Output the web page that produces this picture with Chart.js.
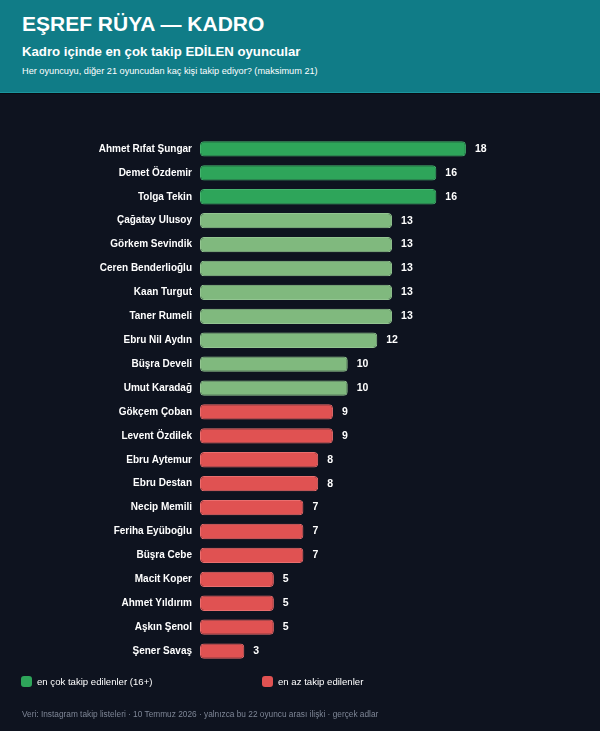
<!DOCTYPE html>
<html>
<head>
<meta charset="utf-8">
<script src="https://cdn.jsdelivr.net/npm/chart.js@4"></script>
<style>
  html, body { margin: 0; padding: 0; overflow: hidden; }
  body { width: 600px; height: 731px; background: #0e131f; font-family: "Liberation Sans", Arial, sans-serif; position: relative; }
  .head { position: absolute; left: 0; top: 0; width: 600px; height: 92px; background: #107c87; border-bottom: 1px solid #1b959e; box-shadow: 0 1px 0 #070b12; }
  .head h1 { position: absolute; left: 22px; top: 12px; margin: 0; font-size: 21px; font-weight: bold; color: #fff; }
  .head h2 { position: absolute; left: 22px; top: 44px; margin: 0; font-size: 13.2px; font-weight: bold; color: #fff; }
  .head p { position: absolute; left: 22px; top: 66px; margin: 0; font-size: 9.2px; color: #fff; }
  #wrap { position: absolute; left: 0; top: 123px; width: 600px; height: 554px; }
  .leg { position: absolute; top: 676px; font-size: 9.6px; color: #fff; }
  .leg span { display: inline-block; width: 11px; height: 11px; border-radius: 3px; vertical-align: -2px; margin-right: 5px; }
  .foot { position: absolute; left: 22px; top: 709px; font-size: 8.3px; color: #7e8696; }
</style>
</head>
<body>
<div class="head">
  <h1>EŞREF RÜYA — KADRO</h1>
  <h2>Kadro içinde en çok takip EDİLEN oyuncular</h2>
  <p>Her oyuncuyu, diğer 21 oyuncudan kaç kişi takip ediyor? (maksimum 21)</p>
</div>
<div id="wrap"><canvas id="myChart"></canvas></div>
<div class="leg" style="left:21px"><span style="background:#2ea55a"></span>en çok takip edilenler (16+)</div>
<div class="leg" style="left:262px"><span style="background:#e05252"></span>en az takip edilenler</div>
<div class="foot">Veri: Instagram takip listeleri · 10 Temmuz 2026 · yalnızca bu 22 oyuncu arası ilişki · gerçek adlar</div>
<script>
// oyuncular ve takip sayıları
var players = [
    'Ahmet Rıfat Şungar', 'Demet Özdemir', 'Tolga Tekin', 'Çağatay Ulusoy',
    'Görkem Sevindik', 'Ceren Benderlioğlu', 'Kaan Turgut', 'Taner Rumeli',
    'Ebru Nil Aydın', 'Büşra Develi', 'Umut Karadağ', 'Gökçem Çoban',
    'Levent Özdilek', 'Ebru Aytemur', 'Ebru Destan', 'Necip Memili',
    'Feriha Eyüboğlu', 'Büşra Cebe', 'Macit Koper', 'Ahmet Yıldırım',
    'Aşkın Şenol', 'Şener Savaş'
];
var followers = [18, 16, 16, 13, 13, 13, 13, 13, 12, 10, 10, 9, 9, 8, 8, 7, 7, 7, 5, 5, 5, 3];

function barColor(v) {
    if (v >= 16) return '#2ea55a';
    if (v >= 10) return '#80b97e';
    return '#e05252';
}
function barBorder(v) {
    if (v >= 16) return '#45b36e';
    if (v >= 10) return '#93c591';
    return '#ea6e6e';
}

// bar sonuna değer yaz
const valueLabels = {
    id: 'value_labels',
    afterDatasetsDraw: (chart) => {
        const ctx = chart.ctx;
        const meta = chart.getDatasetMeta(0);
        ctx.save();
        ctx.fillStyle = '#ffffff';
        ctx.font = 'bold 10.5px "Liberation Sans", Arial, sans-serif';
        ctx.textBaseline = 'middle';
        ctx.textAlign = 'left';
        meta.data.forEach((bar, i) => {
            ctx.fillText(String(followers[i]), bar.x + 9, bar.y);
        });
        ctx.restore();
    }
};

var ctx = document.getElementById('myChart');
var myChart = new Chart(ctx, {
    type: 'bar',
    data: {
        labels: players,
        datasets: [{
            data: followers,
            backgroundColor: followers.map(barColor),
            borderColor: followers.map(barBorder),
            borderWidth: 1,
            borderRadius: 4,
            borderSkipped: false,
            barPercentage: 0.64,
            categoryPercentage: 1
        }]
    },
    options: {
        indexAxis: 'y',
        responsive: true,
        maintainAspectRatio: false,
        animation: false,
        layout: { padding: { left: 0, right: 75, top: 0, bottom: 0 } },
        plugins: { legend: { display: false }, tooltip: { enabled: false } },
        scales: {
            x: { display: false, min: 0, max: 22 },
            y: {
                afterFit: (s) => { s.width = 200; },
                grid: { display: false, drawTicks: false },
                border: { display: false },
                ticks: {
                    color: '#ffffff',
                    padding: 8,
                    font: { family: '"Liberation Sans", Arial, sans-serif', size: 10, weight: 'bold' }
                }
            }
        }
    },
    plugins: [valueLabels]
});
</script>
</body>
</html>
